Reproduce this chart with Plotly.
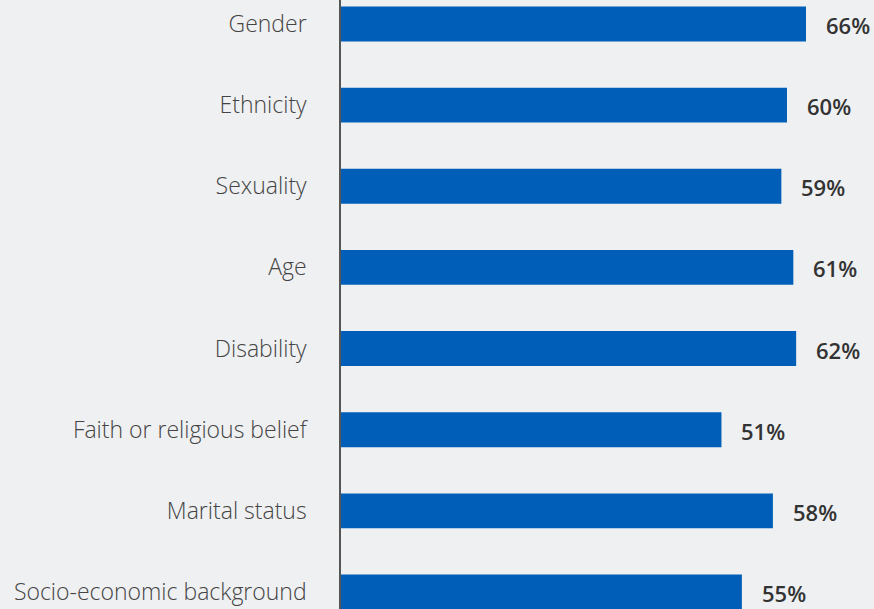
import plotly.graph_objects as go

categories = ["Gender", "Ethnicity", "Sexuality", "Age", "Disability",
              "Faith or religious belief", "Marital status", "Socio-economic background"]
# bar lengths (percent scale)
bar_values = [66.0, 63.3, 62.5, 64.2, 64.6, 54.0, 61.3, 56.9]
# printed value labels
value_labels = ["66%", "60%", "59%", "61%", "62%", "51%", "58%", "55%"]

BG = "#eff0f2"
BLUE = "#005eb8"

fig = go.Figure()
fig.add_trace(go.Bar(
    x=bar_values, y=categories, orientation="h",
    marker=dict(color=BLUE, line=dict(width=0)),
    width=0.43, hoverinfo="skip",
))

for cat, v, lab in zip(categories, bar_values, value_labels):
    fig.add_annotation(x=v, y=cat, text=lab, showarrow=False,
                       xanchor="left", xshift=18, yshift=-1,
                       font=dict(family="Open Sans", size=22, color="#333333", weight=600))

fig.update_layout(
    width=874, height=609,
    margin=dict(l=341, r=0, t=0, b=0),
    paper_bgcolor=BG, plot_bgcolor=BG,
    showlegend=False,
    xaxis=dict(range=[0, 75.65], visible=False, fixedrange=True),
    yaxis=dict(
        categoryorder="array", categoryarray=categories,
        range=[7.21, -0.296],
        showline=True, linecolor="#555555", linewidth=1.5,
        showgrid=False, zeroline=False, ticks="",
        ticklabelstandoff=28,
        tickfont=dict(family="Open Sans", size=23, color="#444444", weight=300),
    ),
)

fig.write_html("out.html")
